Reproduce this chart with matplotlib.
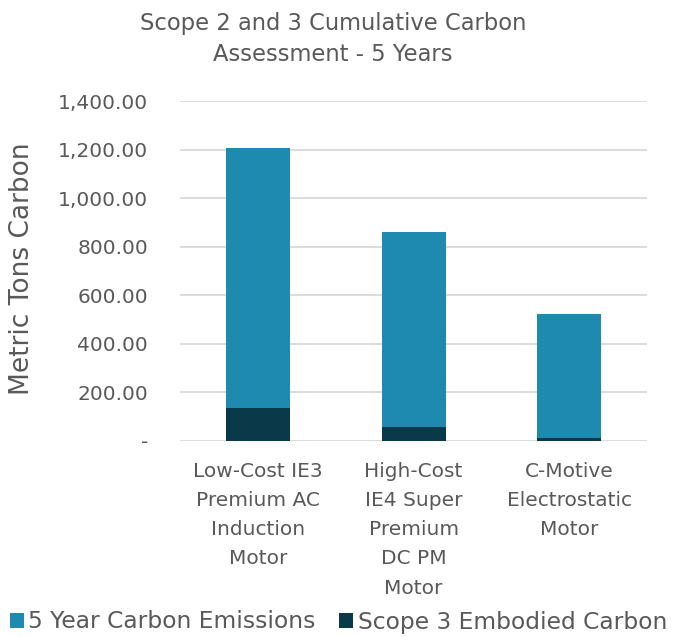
import matplotlib.pyplot as plt
from matplotlib.ticker import FuncFormatter

plt.rcParams['font.family'] = ['DejaVu Sans']

# data
categories = ['Low-Cost IE3\nPremium AC\nInduction\nMotor',
              'High-Cost\nIE4 Super\nPremium\nDC PM\nMotor',
              'C-Motive\nElectrostatic\nMotor']
scope3 = [135, 59, 12]
five_year = [1072, 801, 513]

light = '#1F8AB0'
dark = '#0A3A4A'
grey = '#595959'

fig = plt.figure(figsize=(6.77, 6.37), dpi=100)
ax = fig.add_axes([0.266, 0.3077, 0.69, 0.5337])

x = range(len(categories))
ax.bar(x, scope3, width=0.41, color=dark, label='Scope 3 Embodied Carbon', zorder=3)
ax.bar(x, five_year, width=0.41, bottom=scope3, color=light,
       label='5 Year Carbon Emissions', zorder=3)

ax.set_xlim(-0.5, 2.5)
ax.set_ylim(0, 1400)
ax.set_yticks(range(0, 1401, 200))
ax.yaxis.set_major_formatter(FuncFormatter(lambda v, p: '-' if v == 0 else f'{v:,.2f}'))
ax.grid(axis='y', color='#D9D9D9', linewidth=1.3, zorder=0)
for s in ax.spines.values():
    s.set_visible(False)
ax.tick_params(axis='both', length=0, colors=grey, labelsize=14.5)
ax.tick_params(axis='y', pad=23)
ax.set_xticks(list(x))
ax.set_xticklabels(categories, linespacing=1.68)
ax.tick_params(axis='x', pad=15)

fig.text(22 / 677, 1 - 269 / 637, 'Metric Tons Carbon', rotation=90, color=grey,
         fontsize=19, ha='center', va='center')

fig.text(0.492, 1 - 39 / 637, 'Scope 2 and 3 Cumulative Carbon\nAssessment - 5 Years',
         ha='center', va='center', color=grey, fontsize=16.3, linespacing=1.45)

h, l = ax.get_legend_handles_labels()
fig.legend(h[::-1], l[::-1], loc='center', bbox_to_anchor=(0.5, 1 - 622 / 637), ncol=2,
           frameon=False, fontsize=16.8, labelcolor=grey, handlelength=0.6,
           handleheight=0.6, handletextpad=0.2, columnspacing=1.0)

fig.savefig('out.png', dpi=100)
